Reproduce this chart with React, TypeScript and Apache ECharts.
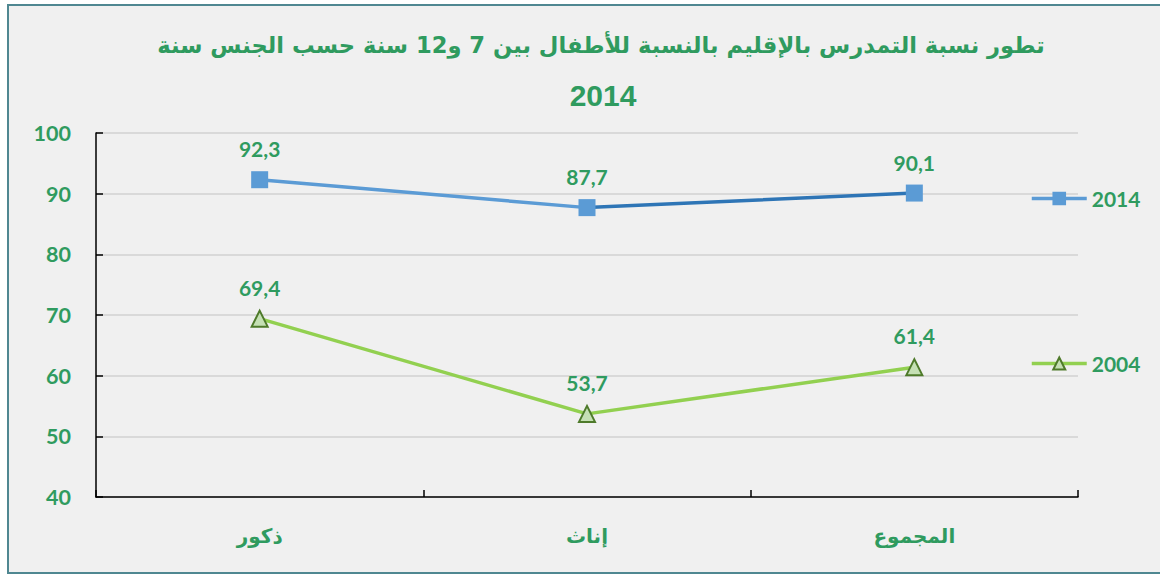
import React, { useEffect, useRef } from "react";
import * as echarts from "echarts";

const titleLine1 = "تطور نسبة التمدرس بالإقليم بالنسبة للأطفال بين 7 و12 سنة حسب الجنس سنة";
const titleLine2 = "2014";
const categories = ["ذكور", "إناث", "المجموع"];
const series2014 = [92.3, 87.7, 90.1];
const series2004 = [69.4, 53.7, 61.4];
const yTicks = { min: 40, max: 100, interval: 10 };

const GREEN_TEXT = "#2f9b5f";
const NUM_FONT = "Lato";
const AR_FONT = "'DejaVu Sans', 'Noto Sans', sans-serif";

export default function App() {
  const ref = useRef<HTMLDivElement>(null);
  useEffect(() => {
    document.body.style.margin = "0";
    const chart = echarts.init(ref.current!, null, { renderer: "svg" });
    const fmt = (p: any) => Number(p.value).toFixed(1).replace(".", ",");
    const labelStyle = {
      show: true,
      position: "top",
      distance: 12,
      color: GREEN_TEXT,
      fontFamily: NUM_FONT,
      fontWeight: "bold",
      fontSize: 21,
      formatter: fmt,
    };
    const legendText = { color: GREEN_TEXT, fontFamily: NUM_FONT, fontWeight: "bold", fontSize: 21 };
    chart.setOption({
      animation: false,
      backgroundColor: "#ffffff",
      graphic: [
        {
          type: "rect",
          z: -100,
          silent: true,
          shape: { x: 8, y: 5, width: 1170, height: 568 },
          style: { fill: "#f0f0f0", stroke: "#4f8791", lineWidth: 2 },
        },
        {
          type: "text",
          x: 601,
          y: 45,
          style: {
            text: titleLine1,
            fill: GREEN_TEXT,
            fontFamily: AR_FONT,
            fontWeight: "bold",
            fontSize: 22.6,
            align: "center",
            verticalAlign: "middle",
          },
        },
        {
          type: "text",
          x: 603,
          y: 95,
          style: {
            text: titleLine2,
            fill: GREEN_TEXT,
            fontFamily: "'Liberation Sans', Arial, sans-serif",
            fontWeight: "bold",
            fontSize: 30,
            align: "center",
            verticalAlign: "middle",
          },
        },
      ],
      grid: { left: 96, right: 82, top: 133, bottom: 79 },
      legend: [
        {
          data: ["2014"],
          left: 1025,
          top: 183,
          itemWidth: 55,
          itemHeight: 17,
          lineStyle: { color: "#5b9bd5", width: 3.5 },
          textStyle: legendText,
        },
        {
          data: ["2004"],
          left: 1025,
          top: 348,
          itemWidth: 55,
          itemHeight: 15,
          lineStyle: { color: "#92d050", width: 3.5 },
          textStyle: legendText,
        },
      ],
      xAxis: {
        type: "category",
        data: categories,
        boundaryGap: true,
        axisLine: { show: true, lineStyle: { color: "#000", width: 1.5 } },
        axisTick: { show: true, inside: true, length: 7, lineStyle: { color: "#000", width: 1.5 } },
        axisLabel: {
          margin: 29,
          color: GREEN_TEXT,
          fontFamily: AR_FONT,
          fontWeight: "bold",
          fontSize: 20,
        },
        splitLine: { show: false },
      },
      yAxis: {
        type: "value",
        min: yTicks.min,
        max: yTicks.max,
        interval: yTicks.interval,
        axisLine: { show: true, lineStyle: { color: "#000", width: 1.5 } },
        axisTick: { show: true, inside: true, length: 7, lineStyle: { color: "#000", width: 1.5 } },
        axisLabel: {
          margin: 25,
          color: GREEN_TEXT,
          fontFamily: NUM_FONT,
          fontWeight: "bold",
          fontSize: 21.5,
        },
        splitLine: { show: true, lineStyle: { color: "#d2d2d2", width: 1.5 } },
      },
      series: [
        {
          name: "2014",
          type: "line",
          data: series2014,
          symbol: "rect",
          symbolSize: 17,
          itemStyle: { color: "#5b9bd5" },
          lineStyle: {
            width: 3.5,
            color: new echarts.graphic.LinearGradient(0, 0, 1, 0, [
              { offset: 0, color: "#5b9bd5" },
              { offset: 0.5, color: "#5b9bd5" },
              { offset: 0.5, color: "#2e75b6" },
              { offset: 1, color: "#2e75b6" },
            ]),
          },
          label: labelStyle,
        },
        {
          name: "2004",
          type: "line",
          data: series2004,
          symbol: "triangle",
          symbolSize: 16,
          itemStyle: { color: "#c5e0b4", borderColor: "#4e7a2a", borderWidth: 2 },
          lineStyle: { width: 3.5, color: "#92d050" },
          label: labelStyle,
        },
      ],
    });
    return () => chart.dispose();
  }, []);
  return <div ref={ref} style={{ width: 1160, height: 576 }} />;
}
